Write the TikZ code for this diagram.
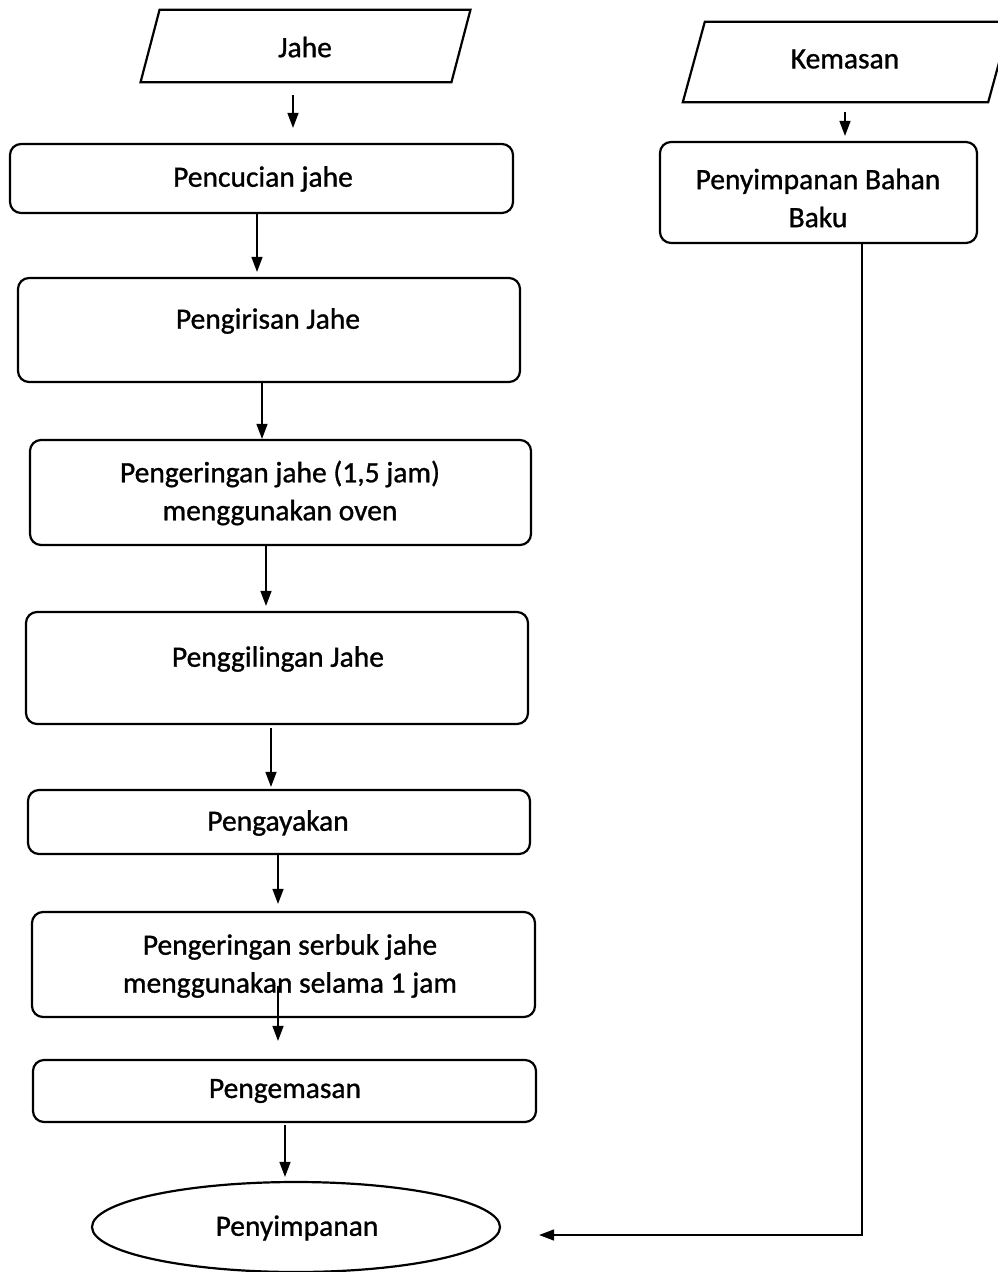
\documentclass[tikz,border=0pt]{standalone}
\usepackage{fontspec}
\setmainfont{Carlito}[FakeBold=1]
\usetikzlibrary{arrows.meta,shapes.geometric}
\begin{document}
\begin{tikzpicture}[x=1pt,y=-1pt,
  every node/.style={font=\fontsize{29.5}{38}\selectfont, align=center},
  procbox/.style={draw, line width=2.2pt, rounded corners=11pt, inner sep=0pt},
  iobox/.style={draw=none, inner sep=0pt},
  txt/.style={inner sep=0pt},
  arr/.style={line width=1.5pt, -{Triangle[length=15pt,width=11pt]}},
  conn/.style={line width=1.5pt}
]
\useasboundingbox (0,0) rectangle (997,1272);
\fill[white] (0,0) rectangle (997,1272);

% Inputs (parallelograms)
\node[iobox, minimum width=310.5pt, minimum height=72pt] (jahe) at (305.5,46) {};
\draw[line width=2.2pt] ([xshift=-9.5pt]jahe.south west) -- ([xshift=9.5pt]jahe.north west)
  -- ([xshift=9.5pt]jahe.north east) -- ([xshift=-9.5pt]jahe.south east) -- cycle;
\node[txt] (tjahe) at (305,47) {Jahe};

\node[iobox, minimum width=305pt, minimum height=80pt] (kem) at (846.5,62) {};
\draw[line width=2.2pt] ([xshift=-11pt]kem.south west) -- ([xshift=11pt]kem.north west)
  -- ([xshift=11pt]kem.north east) -- ([xshift=-11pt]kem.south east) -- cycle;
\node[txt] (tkem) at (845,59) {Kemasan};

% Process boxes
\node[procbox, minimum width=503pt, minimum height=69pt] (b1) at (261.5,178.5) {};
\node[txt] (t1) at (263,179) {Pencucian jahe};

\node[procbox, minimum width=502pt, minimum height=104pt] (b2) at (269,330) {};
\node[txt] (t2) at (268,321) {Pengirisan Jahe};

\node[procbox, minimum width=501pt, minimum height=105pt] (b3) at (280.5,492.5) {};
\node[txt] (t3) at (280,493) {Pengeringan jahe (1,5 jam)\\menggunakan oven};

\node[procbox, minimum width=502pt, minimum height=112pt] (b4) at (277,668) {};
\node[txt] (t4) at (278,659) {Penggilingan Jahe};

\node[procbox, minimum width=502pt, minimum height=64pt] (b5) at (279,822) {};
\node[txt] (t5) at (278,823) {Pengayakan};

\node[procbox, minimum width=503pt, minimum height=105pt] (b6) at (283.5,964.5) {};
\node[txt] (t6) at (290,966) {Pengeringan serbuk jahe\\menggunakan selama 1 jam};

\node[procbox, minimum width=503pt, minimum height=62pt] (b7) at (284.5,1091) {};
\node[txt] (t7) at (285,1091) {Pengemasan};

\node[draw, ellipse, line width=2.2pt, minimum width=408pt, minimum height=90pt, inner sep=0pt] (ell) at (296,1227) {};
\node[txt] (tell) at (297,1228) {Penyimpanan};

\node[procbox, minimum width=317pt, minimum height=101pt] (k2) at (818.5,192.5) {};
\node[txt] (tk2) at (818,198) {Penyimpanan Bahan\\Baku};

% Connectors
\draw[arr, shorten <=13pt, shorten >=15pt] ([xshift=-12.5pt]jahe.south) -- ([xshift=31.5pt]b1.north);
\draw[arr, shorten >=5pt] ([xshift=-4.5pt]b1.south) -- ([xshift=-12pt]b2.north);
\draw[arr] ([xshift=-7pt]b2.south) -- ([xshift=-18.5pt]b3.north);
\draw[arr, shorten >=5pt] ([xshift=-14.5pt]b3.south) -- ([xshift=-11pt]b4.north);
\draw[arr, shorten <=3pt, shorten >=2pt] ([xshift=-6pt]b4.south) -- ([xshift=-8pt]b5.north);
\draw[arr, shorten >=7pt] ([xshift=-1pt]b5.south) -- ([xshift=-5.5pt]b6.north);
\draw[arr, shorten <=-32pt, shorten >=18pt] ([xshift=-5.5pt]b6.south) -- ([xshift=-6.5pt]b7.north);
\draw[arr, shorten <=2pt, shorten >=4pt] ([xshift=0.5pt]b7.south) -- ([xshift=-11pt]ell.north);
\draw[arr, shorten <=10pt, shorten >=5pt] ([xshift=-1.5pt]kem.south) -- ([xshift=26.5pt]k2.north);
\draw[arr] ([xshift=43.5pt]k2.south) |- ([xshift=38pt,yshift=-8pt]ell.east);
\end{tikzpicture}
\end{document}
